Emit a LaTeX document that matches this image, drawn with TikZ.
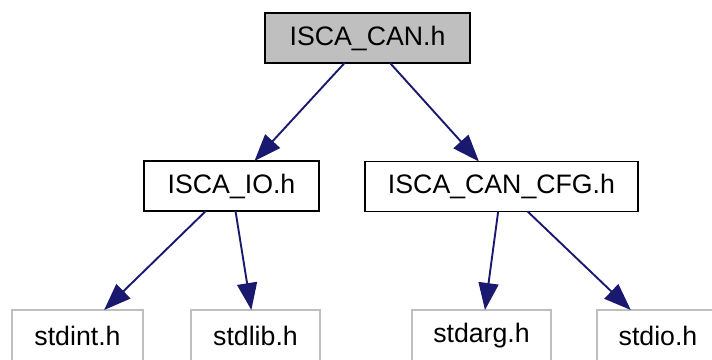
\documentclass[tikz,border=0pt]{standalone}
\usepackage{fontspec}
\setmainfont{Liberation Sans}
\usetikzlibrary{arrows.meta}
\definecolor{edgeblue}{HTML}{191970}
\definecolor{boxgray}{HTML}{BFBFBF}
\begin{document}
\begin{tikzpicture}[x=1pt,y=-1pt,
  every node/.style={font=\fontsize{26.7}{32}\selectfont, inner sep=0pt, outer sep=0pt, minimum height=50pt},
  mainbox/.style={draw=black, line width=1.8pt, fill=boxgray},
  incbox/.style={draw=black, line width=1.8pt, fill=white},
  sysbox/.style={draw=boxgray, line width=1.8pt, fill=white},
  arr/.style={draw=edgeblue, line width=1.9pt, -{Triangle[length=27pt,width=20pt]}}]
\useasboundingbox (0,0) rectangle (712,359);
\node[mainbox, minimum width=205pt] (top) at (367.5,38) {ISCA\_CAN.h};
\node[incbox, minimum width=175pt] (io) at (231.5,186) {ISCA\_IO.h};
\node[incbox, minimum width=273pt] (cfg) at (501.5,186.5) {ISCA\_CAN\_CFG.h};
\node[sysbox, minimum width=131pt, minimum height=52pt] (stdint) at (77.5,336) {stdint.h};
\node[sysbox, minimum width=129pt, minimum height=52pt] (stdlib) at (255.5,336) {stdlib.h};
\node[sysbox, minimum width=139pt, minimum height=52pt] (stdarg) at (481.5,336) {stdarg.h};
\node[sysbox, minimum width=122pt, minimum height=52pt] (stdio) at (658,336) {stdio.h};
\draw[arr] (top) -- (io);
\draw[arr] (top) -- (cfg);
\draw[arr] (io) -- (stdint);
\draw[arr] (io) -- (stdlib);
\draw[arr] (cfg) -- (stdarg);
\draw[arr] (cfg) -- (stdio);
\end{tikzpicture}
\end{document}
